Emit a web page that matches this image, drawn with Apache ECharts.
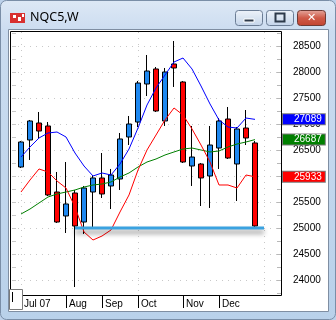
<!DOCTYPE html>
<html><head><meta charset="utf-8">
<script src="https://cdn.jsdelivr.net/npm/echarts@6/dist/echarts.min.js"></script>
<style>html,body{margin:0;padding:0;background:#bcd1ea}#c{width:336px;height:320px}</style>
</head><body><div id="c"></div>
<script>
// ---- data (weekly bars) ----
const weeks = ['Jul 07','Jul 14','Jul 21','Jul 28','Aug 04','Aug 11','Aug 18','Aug 25','Sep 01','Sep 08','Sep 15','Sep 22','Sep 29','Oct 06','Oct 13','Oct 20','Oct 27','Nov 03','Nov 10','Nov 17','Nov 24','Dec 01','Dec 08','Dec 15','Dec 22','Dec 29','Jan 05'];
const openV  = [26173,26692,27019,26962,25692,25231,25673,25115,25692,25962,25808,25942,26750,27038,27769,28058,27058,28154,27808,26192,26231,26000,26538,27096,26231,26923,26635];
const closeV = [26654,27058,26865,25635,25115,25462,25038,25769,25962,25654,26019,26712,27000,27788,28019,27250,28000,28077,26269,26365,25962,26596,27058,26346,26904,26731,25038];
const lowV   = [26154,26308,26731,25615,25096,24904,23865,24885,25000,25577,25365,25731,26596,26942,27538,27231,26962,27712,26250,25808,25423,25385,26135,26327,25519,26596,25019];
const highV  = [26673,27077,27231,27038,26077,26269,25731,25808,26019,26442,26135,26827,27154,27827,28327,28096,28077,28596,27827,26962,26250,26962,27115,27327,26942,27269,26673];
const maBlue  = [26365,26558,26731,26827,26846,26750,26442,26192,26000,26058,26019,26231,26519,26923,27365,27692,27942,28192,28269,28058,27731,27385,27077,26942,26923,27115,27089];
const maRed   = [25692,25923,26135,26077,25904,25769,25404,24923,24769,24846,24962,25308,25635,26115,26500,26788,27077,27308,27173,26904,26596,26269,25827,25827,25769,26019,25985];
const maGreen = [25269,25365,25481,25596,25654,25692,25731,25788,25827,25846,25885,25981,26058,26173,26269,26327,26404,26462,26519,26538,26500,26462,26481,26558,26615,26654,26700];
const priceTicks = [24000,24500,25000,25500,26000,26500,27000,27500,28000,28500];
const minorTicks = [23750,24000,24250,24500,24750,25000,25250,25500,25750,26000,26250,26500,26750,27000,27250,27500,27750,28000,28250,28500,28750];
const monthIdx = [0,5,9,13,18,22];
const monthLabels = ['Jul 07','Aug','Sep','Oct','Nov','Dec'];
const monthSepIdx = [5,9,13,18,22];
const gridIdx = [0,13,27];
const tagText = ['27089','26687','25933'];
const supportLevel = 25000;
const supportFromWeek = 6;   // line starts at this bar
const supportToWeek = 27;

// ---- build ----
const PAD_L = 1, PAD_R = 3;
const cats = [];
for (let i = 0; i < PAD_L; i++) cats.push('');
weeks.forEach(w => cats.push(w));
for (let i = 0; i < PAD_R; i++) cats.push(' ' + i);
const pad = n => Array(n).fill('-');
const candle = pad(PAD_L).concat(weeks.map((w, i) => [openV[i], closeV[i], lowV[i], highV[i]]));
const line = arr => pad(PAD_L).concat(arr);

function tag(value, text, bg) {
  return {
    symbol: 'none', silent: true, animation: false,
    lineStyle: { color: 'rgba(0,0,0,0)', width: 1, type: 'solid' },
    label: { show: true },
    data: [{ yAxis: value, label: {
      show: true, position: 'end', distance: 1, formatter: text,
      color: '#fff', backgroundColor: bg, borderColor: '#7a7a7a', borderWidth: 1,
      padding: [0, 3, 0, 11], fontFamily: 'Liberation Sans', fontSize: 10, lineHeight: 10
    } }]
  };
}

const chart = echarts.init(document.getElementById('c'), null, { renderer: 'canvas' });
const chrome = [
  { type: 'rect', z: -20, shape: { x: 0.5, y: 0.5, width: 335, height: 319, r: 6 },
    style: { fill: new echarts.graphic.LinearGradient(0, 0, 0, 1, [{ offset: 0, color: '#dde8f5' }, { offset: 0.1, color: '#cbdcf0' }, { offset: 1, color: '#b9d1ea' }]), stroke: '#7a8ea7', lineWidth: 1 } },
  { type: 'rect', z: -19, shape: { x: 8.5, y: 29.5, width: 320, height: 282 },
    style: { fill: '#ffffff', stroke: '#7f8ea2', lineWidth: 1 } },
  { type: 'rect', z: 50, shape: { x: 10.5, y: 31.5, width: 271, height: 264 },
    style: { fill: 'none', stroke: '#000', lineWidth: 1 } },
  { type: 'rect', z: 51, shape: { x: 9.5, y: 289.5, width: 13, height: 20 },
    style: { fill: '#fff', stroke: '#7a7a7a', lineWidth: 1 } },
  { type: 'line', z: 52, shape: { x1: 12.5, y1: 292, x2: 12.5, y2: 302 }, style: { stroke: '#000', lineWidth: 1 } },
  { type: 'rect', z: 5, shape: { x: 10, y: 13, width: 15, height: 10 }, style: { fill: '#d83030' } },
  { type: 'rect', z: 6, shape: { x: 13, y: 15, width: 3, height: 3 }, style: { fill: '#ffffff' } },
  { type: 'rect', z: 6, shape: { x: 18, y: 17, width: 3, height: 4 }, style: { fill: '#ffffff' } },
  { type: 'rect', z: 6, shape: { x: 22, y: 14, width: 2, height: 3 }, style: { fill: '#ffffff' } },
  { type: 'text', z: 5, style: { x: 30, y: 17, text: 'NQC5,W', fill: '#000', font: '12.5px "Noto Sans"', verticalAlign: 'middle' } },
  { type: 'rect', z: 5, shape: { x: 235.5, y: 10.5, width: 27, height: 15, r: 3 },
    style: { fill: new echarts.graphic.LinearGradient(0, 0, 0, 1, [{ offset: 0, color: '#eef3fa' }, { offset: 0.5, color: '#d9e4f1' }, { offset: 1, color: '#c3d4ea' }]), stroke: '#6b7d95', lineWidth: 1 } },
  { type: 'rect', z: 6, shape: { x: 244, y: 19, width: 10, height: 3 }, style: { fill: '#2d3a4a', stroke: '#ffffff', lineWidth: 1 } },
  { type: 'rect', z: 5, shape: { x: 266.5, y: 10.5, width: 27, height: 15, r: 3 },
    style: { fill: new echarts.graphic.LinearGradient(0, 0, 0, 1, [{ offset: 0, color: '#eef3fa' }, { offset: 0.5, color: '#d9e4f1' }, { offset: 1, color: '#c3d4ea' }]), stroke: '#6b7d95', lineWidth: 1 } },
  { type: 'rect', z: 6, shape: { x: 275.5, y: 13.5, width: 9, height: 8 }, style: { fill: 'none', stroke: '#2d3a4a', lineWidth: 2 } },
  { type: 'rect', z: 5, shape: { x: 297.5, y: 10.5, width: 28, height: 15, r: 3 },
    style: { fill: new echarts.graphic.LinearGradient(0, 0, 0, 1, [{ offset: 0, color: '#e5a99f' }, { offset: 0.5, color: '#cf5a48' }, { offset: 1, color: '#c1432f' }]), stroke: '#6e3a34', lineWidth: 1 } },
  { type: 'text', z: 6, style: { x: 311.5, y: 18.5, text: '✕', fill: '#fff', font: 'bold 11px "DejaVu Sans"', align: 'center', verticalAlign: 'middle' } }
];

const option = {
  animation: false,
  backgroundColor: 'transparent',
  graphic: { elements: chrome },
  grid: { left: 12, top: 32, width: 270, height: 263, show: false },
  xAxis: {
    type: 'category', data: cats, boundaryGap: false,
    axisLine: { show: false },
    axisTick: { show: true, length: 13, lineStyle: { color: '#000' },
      interval: i => monthSepIdx.includes(i - PAD_L) },
    axisLabel: { show: true, interval: i => monthIdx.includes(i - PAD_L),
      formatter: (v, i) => monthLabels[monthIdx.indexOf(i - PAD_L)] || '',
      align: 'left', padding: [0, 0, 0, 3], margin: 4,
      color: '#000', fontFamily: 'Liberation Sans', fontSize: 10 },
    splitLine: { show: true, interval: i => gridIdx.includes(i - PAD_L),
      lineStyle: { color: '#c8c8c8', type: [1, 5] } }
  },
  yAxis: [
    { type: 'value', position: 'right', min: 23711.5, max: 28769.2, scale: true,
      axisLine: { show: false },
      axisTick: { show: false, customValues: priceTicks },
      axisLabel: { customValues: priceTicks, margin: 11, color: '#000', formatter: v => String(v),
        fontFamily: 'Liberation Sans', fontSize: 10 },
      splitLine: { show: true, lineStyle: { color: '#c8c8c8', type: [1, 5] } } },
    { type: 'value', position: 'right', min: 23711.5, max: 28769.2, scale: true,
      axisLine: { show: false }, axisLabel: { show: false }, splitLine: { show: false },
      axisTick: { show: true, inside: true, length: 5, customValues: minorTicks, lineStyle: { color: '#b8b8b8' } } },
    { type: 'value', position: 'left', min: 23711.5, max: 28769.2, scale: true,
      axisLine: { show: false }, axisLabel: { show: false }, splitLine: { show: false },
      axisTick: { show: true, inside: true, length: 4, customValues: minorTicks, lineStyle: { color: '#c8c8c8' } } }
  ],
  series: [
    { type: 'candlestick', data: candle, barWidth: 5, z: 3,
      itemStyle: { color: '#1e88f0', color0: '#ff0000', borderColor: '#000', borderColor0: '#000', borderWidth: 1 } },
    { type: 'line', data: line(maGreen), symbol: 'none', z: 4, lineStyle: { color: '#008000', width: 1 },
      markLine: tag(maGreen[maGreen.length - 1], tagText[1], '#008000') },
    { type: 'line', data: line(maRed), symbol: 'none', z: 4, lineStyle: { color: '#ff0000', width: 1 },
      markLine: tag(maRed[maRed.length - 1], tagText[2], '#ff0000') },
    { type: 'line', data: line(maBlue), symbol: 'none', z: 4, lineStyle: { color: '#0000ff', width: 1 },
      markLine: tag(maBlue[maBlue.length - 1], tagText[0], '#0000ff') },
    { type: 'line', symbol: 'none', z: 5,
      data: [[supportFromWeek + PAD_L - 0.33, supportLevel], [supportToWeek + PAD_L + 0.33, supportLevel]],
      lineStyle: { color: '#3aa2e0', width: 3, shadowColor: 'rgba(0,0,0,0.45)', shadowBlur: 5, shadowOffsetY: 4 } }
  ]
};
chart.setOption(option);
</script></body></html>
